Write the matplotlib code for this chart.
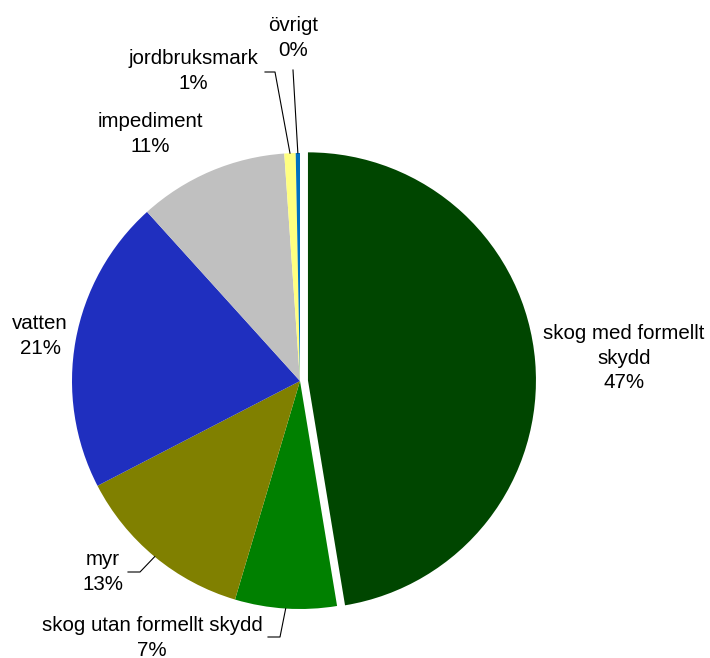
import matplotlib.pyplot as plt
import numpy as np

plt.rcParams['font.family'] = ['Liberation Sans', 'DejaVu Sans']

# land use shares, clockwise from 12 o'clock
categories = ['skog med formellt\nskydd', 'skog utan formellt skydd', 'myr', 'vatten',
              'impediment', 'jordbruksmark', 'övrigt']
values = [47.4, 7.2, 12.8, 20.9, 10.6, 0.8, 0.3]
colors = ['#004600', '#008000', '#808000', '#1f2fbf', '#c0c0c0', '#ffff80', '#0070c0']

fig = plt.figure(figsize=(7.1, 6.58), dpi=100)
# pie centre at pixel (300, 381), radius 228 px
R = 228
ax = fig.add_axes([(300 - R) / 710, (658 - 381 - R) / 658, 2 * R / 710, 2 * R / 658])
ax.axis('off')

explode = [0.035, 0, 0, 0, 0, 0, 0]
wedges, _ = ax.pie(values, colors=colors, startangle=90, counterclock=False,
                   explode=explode, radius=1, wedgeprops=dict(linewidth=0),
                   frame=False)
ax.set_xlim(-1, 1)
ax.set_ylim(-1, 1)
ax.set_aspect('equal')


def px(x, y):
    return (x - 300) / R, (381 - y) / R


total = sum(values)
pct = [f'{round(v / total * 100):d}%' for v in values]

# label placement (pixel coords) and optional leader elbows
label_pos = [(624, 358), (152, 638), (103, 572), (40, 336), (150, 134), (193, 71), (293, 38)]
leaders = {
    1: [(268, 637), (280, 637)],
    2: [(128, 572), (140, 572)],
    5: [(265, 72), (275, 72)],
    6: [(293, 70)],
}

for i, (lab, p) in enumerate(zip(categories, pct)):
    x, y = px(*label_pos[i])
    ax.text(x, y, f'{lab}\n{p}', ha='center', va='center', fontsize=14.8,
            linespacing=1.38, clip_on=False)
    if i in leaders:
        w = wedges[i]
        mid = np.deg2rad((w.theta1 + w.theta2) / 2)
        pts = [px(*q) for q in leaders[i]] + [(np.cos(mid), np.sin(mid))]
        xs, ys = zip(*pts)
        ax.plot(xs, ys, color='black', lw=0.8, clip_on=False)

fig.savefig('out.png', dpi=100)
